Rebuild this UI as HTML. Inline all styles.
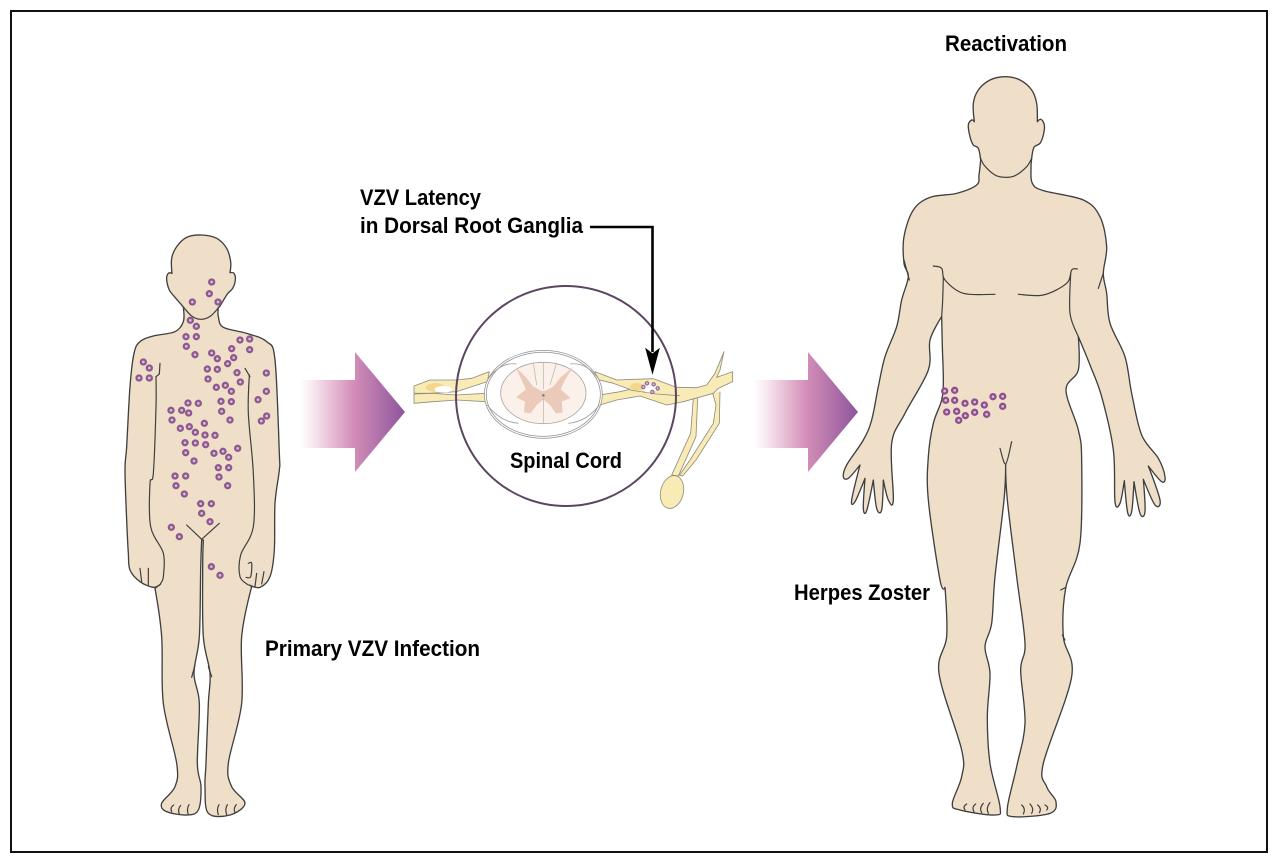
<!DOCTYPE html>
<html lang="en">
<head>
<meta charset="utf-8">
<title>VZV Latency and Reactivation</title>
<style>
html,body{margin:0;padding:0;background:#fff;width:1280px;height:860px;overflow:hidden}
svg{display:block}
text{font-family:"Liberation Sans",sans-serif;font-weight:700;font-size:22px;fill:#000}
.b{fill:#f0dfc8;stroke:#3f3f3f;stroke-width:4;stroke-linejoin:round}
.l{fill:none;stroke:#3f3f3f;stroke-width:3.6;stroke-linecap:round;stroke-linejoin:round}
.n{fill:#f9ebb6;stroke:#8e8c7c;stroke-width:2.5;stroke-linejoin:round}
</style>
</head>
<body>
<svg xmlns="http://www.w3.org/2000/svg" width="1280" height="860" viewBox="0 0 1280 860">
<defs>
<linearGradient id="g" x1="0" y1="0" x2="1" y2="0">
<stop offset="0" stop-color="#fff"/>
<stop offset=".12" stop-color="#f8e8f0"/>
<stop offset=".5" stop-color="#d48fb8"/>
<stop offset="1" stop-color="#8e559c"/>
</linearGradient>
<path id="d1" d="M275 186h0M268 221h0M217 246h0M294 246h0M211 301h0M229 319h0M198 350h0M229 350h0M199 379h0M225 404h0M360 360h0M389 357h0M335 386h0M389 389h0M275 399h0M292 416h0M341 413h0M323 431h0M262 447h0M292 448h0M351 458h0M264 477h0M361 486h0M289 502h0M316 496h0M334 514h0M303 544h0M334 545h0M305 574h0M330 600h0M204 549h0M235 550h0M153 571h0M185 571h0M206 579h0M156 600h0M253 610h0M181 625h0M208 620h0M226 637h0M255 645h0M285 646h0M195 668h0M226 669h0M257 674h0M197 698h0M282 700h0M309 694h0M326 712h0M353 685h0M222 723h0M295 743h0M326 743h0M165 768h0M197 768h0M297 771h0M70 426h0M88 444h0M57 474h0M88 474h0M439 459h0M439 514h0M414 539h0M440 588h0M424 603h0M168 797h0M323 797h0M193 822h0M242 851h0M274 851h0M245 880h0M270 905h0M154 922h0M178 950h0M274 1040h0M300 1066h0"/>
<path id="d2" d="M344 993h0M374 991h0M347 1021h0M374 1021h0M405 1030h0M434 1026h0M463 1035h0M489 1010h0M518 1009h0M518 1039h0M350 1056h0M380 1054h0M386 1081h0M406 1067h0M434 1057h0M470 1063h0"/>
</defs>
<rect width="1280" height="860" fill="#fff"/>
<rect x="11" y="11" width="1256" height="841" fill="none" stroke="#111" stroke-width="2"/>

<!-- Child -->
<g transform="translate(120,220) scale(.33333)">
<polyline class="b c" points="190,262,1 190,305 165,335 100,348 60,365 42,400 30,500 20,680 15,750 20,900 25,1000 30,1050 60,1085 100,1102 122,1092,1 105,1105,1 125,1250 130,1450 170,1630 165,1700 125,1750 140,1775 200,1785 235,1770 243,1700 232,1630 238,1450 222,1360 238,1250 242,1050 245,960,1 250,960,1 248,1050 250,1250 270,1360 265,1450 258,1630 255,1700 265,1780 330,1785 375,1750 335,1700 325,1630 365,1450 365,1250 395,1100,1 388,1095,1 420,1102 450,1070 463,990 465,850 478,750 478,700 465,420 440,365 380,340 310,322 295,290 295,262,1 300,258 322,222 338,205 346,180 342,160 330,158,1 332,125 320,85 290,55 245,45 200,52 170,80 155,115 156,160,1 145,160 140,178 148,210 165,232 185,255"/>
<polyline class="l s" points="185,255 215,288 243,298 272,288 300,258"/>
<polyline class="l" points="120,430 118,462 108,470"/>
<polyline class="l s" points="108,470 108,560 100,760 90,790 92,920 130,1000 130,1070 122,1090"/>
<polyline class="l" points="375,445 390,470"/>
<polyline class="l s" points="388,465 385,580 400,760 400,920 362,1005 360,1070 385,1095"/>
<polyline class="l s" points="385,1030 395,1030 392,1070 378,1072"/>
<polyline class="l" points="200,915 245,958 298,910"/>
<polyline class="l" points="215,1372 225,1335"/>
<polyline class="l" points="275,1370 265,1340"/>
<polyline class="l" points="60,1045 65,1085"/>
<polyline class="l" points="85,1045 85,1095"/>
<polyline class="l" points="410,1060 405,1100"/>
<polyline class="l" points="432,1055 425,1092"/>
<path class="l" d="M155 1775q-6-12 6-20M178 1782q-6-14 4-26M205 1784q-6-16 2-30M295 1784q-6-16 2-30M320 1784q-6-16 2-30M345 1778q-6-14 4-24"/>
<use href="#d1" fill="none" stroke="#8c5a90" stroke-width="22" stroke-linecap="round"/>
<use href="#d1" fill="none" stroke="#e2bfd2" stroke-width="8" stroke-linecap="round"/>
</g>

<!-- Arrow 1 -->
<path d="M300 380H355V352L405 412L355 472V448H300Z" fill="url(#g)"/>
<!-- Arrow 2 -->
<path d="M754 380H808V352L858 412L808 472V448H754Z" fill="url(#g)"/>

<!-- Spinal cord and nerves -->
<g transform="translate(400,290) scale(.33333)">
<polyline class="n" points="42,288 90,270 170,270 215,265 268,245 262,275 170,305 90,310 42,310 42,288"/>
<polyline class="n" points="42,312 100,310 170,315 258,310 258,335 170,330 100,335 42,340 42,312"/>
<ellipse cx="105" cy="292" rx="28" ry="13" fill="#f4d68c"/>
<ellipse cx="130" cy="298" rx="26" ry="10" fill="#fff"/>
<polyline class="n" points="880,325 872,430 815,555 835,558 888,440 893,325"/>
<polyline class="n" points="938,310 948,345 940,400 870,510 838,556 848,558 888,510 958,400 960,305"/>
<ellipse cx="816" cy="606" rx="34" ry="50" transform="rotate(14 816 606)" class="n"/>
<polyline class="n" points="585,245 650,270 700,268 760,266 830,292 890,293 920,285 945,250 972,185 960,240 950,262 998,245 998,275 955,295 940,310 850,335 800,345 720,318 650,330 600,345 598,315 660,305 690,298 640,280 590,268 585,245"/>
<polyline class="l" style="stroke:#8e8c7c;stroke-width:2.5" points="690,300 770,312 838,317"/>
<ellipse cx="712" cy="290" rx="22" ry="11" fill="#f4d68c"/>
<ellipse cx="750" cy="295" rx="20" ry="13" fill="#fff"/>
<g fill="#d8b8d4" stroke="#8c6a9c" stroke-width="3.5">
<circle cx="741" cy="280" r="5"/><circle cx="761" cy="283" r="5"/><circle cx="730" cy="291" r="5"/><circle cx="773" cy="295" r="5"/><circle cx="757" cy="306" r="5"/>
</g>
<ellipse cx="430" cy="313" rx="174" ry="129" fill="#fff" stroke="#8f8f8f" stroke-width="8"/>
<ellipse cx="430" cy="313" rx="174" ry="129" fill="none" stroke="#fff" stroke-width="3.5"/>
<path d="M262 270Q300 215 350 222M598 270Q560 215 510 222M262 345Q300 395 355 400M598 345Q560 395 505 400" fill="none" stroke="#999" stroke-width="2.5"/>
<ellipse cx="430" cy="309" rx="128" ry="92" fill="#fbf1ea" stroke="#aaa49e" stroke-width="2.5"/>
<path d="M425 303L400 290L378 262L346 230L365 270L378 298L348 322L375 335L372 367L392 370L410 345L428 330L432 330L450 345L468 370L488 367L485 335L512 324L482 298L495 270L520 230L482 262L460 290L435 303Z" fill="#ebcaba"/>
<path d="M430 218V298M430 325V402M400 218L410 285M470 218L450 285" fill="none" stroke="#bbb5ae" stroke-width="2.2"/>
<circle cx="430" cy="316" r="4" fill="#8a8078"/>
</g>
<circle cx="566" cy="396" r="110" fill="none" stroke="#5b4560" stroke-width="2"/>

<!-- Connector -->
<path d="M590 227H652.5V352" fill="none" stroke="#000" stroke-width="2.6"/>
<path d="M646 349L652.5 354L659 349L652.5 373Z" fill="#000" stroke="#000" stroke-width="1"/>

<!-- Adult -->
<g transform="translate(830,60) scale(.33333)">
<polyline class="b c" points="452,300,1 447,345 440,375 380,400 300,412 250,450 222,530 222,610 235,650 215,720 200,800 165,890 145,980 125,1080 100,1140 50,1215 40,1250 55,1255 90,1215,1 65,1320 75,1325 105,1255,1 100,1345 110,1352 130,1260,1 140,1345 155,1350 160,1260,1 175,1320 190,1320 185,1150 225,1060 295,930 300,840 335,770,1 337,860 340,960 335,1020 310,1090 295,1190 295,1320 330,1560 345,1582,1 350,1730 327,1840 395,2070 395,2150 367,2230 390,2250 495,2265 510,2240 480,2110 472,1970 480,1840 465,1760 485,1690 495,1550 522,1320 527,1212,1 532,1320 560,1550 585,1750 572,1830 585,1990 560,2120 532,2245 550,2270 660,2260 678,2225 650,2180 640,2110 725,1850 700,1730 707,1585 750,1450 755,1200 745,1110 708,990 745,930 745,830,1 780,915 815,1010 850,1170 855,1325 870,1330 883,1262,1 893,1358 905,1355 912,1265,1 930,1360 945,1355 940,1258,1 975,1335 990,1320 955,1218,1 995,1265 1005,1250 985,1195 935,1125 905,1000 885,890 840,790 830,700 820,640 830,560 810,470 760,420 640,392 607,370 603,325 605,295,1 612,262 630,250 640,225 643,195 633,178 622,185,1 620,130 605,90 570,60 525,50 480,60 445,90 430,130 433,185,1 425,180 415,195 420,230 430,255 445,265"/>
<polyline class="l s" points="450,290 462,315 495,345 525,352 555,347 590,320 605,295"/>
<polyline class="l s" points="310,618 335,625 345,660 400,700 495,703"/>
<polyline class="l s" points="565,703 640,705 710,670 725,630 742,627"/>
<polyline class="l s" points="340,650 338,720 335,770"/>
<polyline class="l s" points="722,640 720,760 745,830"/>
<polyline class="l" points="805,685 820,640"/>
<polyline class="l" points="222,600 238,660"/>
<polyline class="l s" points="510,1165 527,1212 545,1145"/>
<polyline class="l" points="692,1590 708,1582"/>
<polyline class="l" points="697,1725 705,1740"/>
<path class="l" d="M405 2250q-8-10 5-18M432 2255q-8-14 5-23M455 2258q-8-14 5-28M475 2260q-8-16 5-32M580 2262q8-16-5-27M605 2260q8-14-5-28M628 2258q8-12-5-23M650 2250q8-8-5-15"/>
<use href="#d2" fill="none" stroke="#8c4f90" stroke-width="22" stroke-linecap="round"/>
<use href="#d2" fill="none" stroke="#e2bfd2" stroke-width="8" stroke-linecap="round"/>
</g>

<!-- Labels -->
<text x="945" y="51" textLength="122" lengthAdjust="spacingAndGlyphs">Reactivation</text>
<text x="360" y="205" textLength="121" lengthAdjust="spacingAndGlyphs">VZV Latency</text>
<text x="360" y="233" textLength="223" lengthAdjust="spacingAndGlyphs">in Dorsal Root Ganglia</text>
<text x="510" y="468" textLength="112" lengthAdjust="spacingAndGlyphs">Spinal Cord</text>
<text x="265" y="656" textLength="215" lengthAdjust="spacingAndGlyphs">Primary VZV Infection</text>
<text x="794" y="600" textLength="136" lengthAdjust="spacingAndGlyphs">Herpes Zoster</text>

<script>
document.querySelectorAll('polyline.c,polyline.s').forEach(function(e){
  var a=e.getAttribute('points').trim().split(/\s+/).map(function(p){return p.split(',').map(Number)});
  var c=e.classList.contains('c'),n=a.length,d='M'+a[0][0]+' '+a[0][1];
  function g(i){return c?a[(i+n)%n]:a[Math.max(0,Math.min(n-1,i))]}
  function t(i){var p=g(i);if(p[2])return [0,0];var u=g(i-1),v=g(i+1);return [(v[0]-u[0])/6,(v[1]-u[1])/6]}
  for(var i=0;i<(c?n:n-1);i++){
    var p1=g(i),p2=g(i+1),t1=t(i),t2=t(i+1);
    d+='C'+(p1[0]+t1[0]).toFixed(1)+' '+(p1[1]+t1[1]).toFixed(1)+' '+
       (p2[0]-t2[0]).toFixed(1)+' '+(p2[1]-t2[1]).toFixed(1)+' '+p2[0]+' '+p2[1];
  }
  if(c)d+='Z';
  var q=document.createElementNS('http://www.w3.org/2000/svg','path');
  q.setAttribute('d',d);
  q.setAttribute('class',e.getAttribute('class'));
  if(e.getAttribute('style'))q.setAttribute('style',e.getAttribute('style'));
  e.parentNode.replaceChild(q,e);
});
</script>
</svg>
</body>
</html>
